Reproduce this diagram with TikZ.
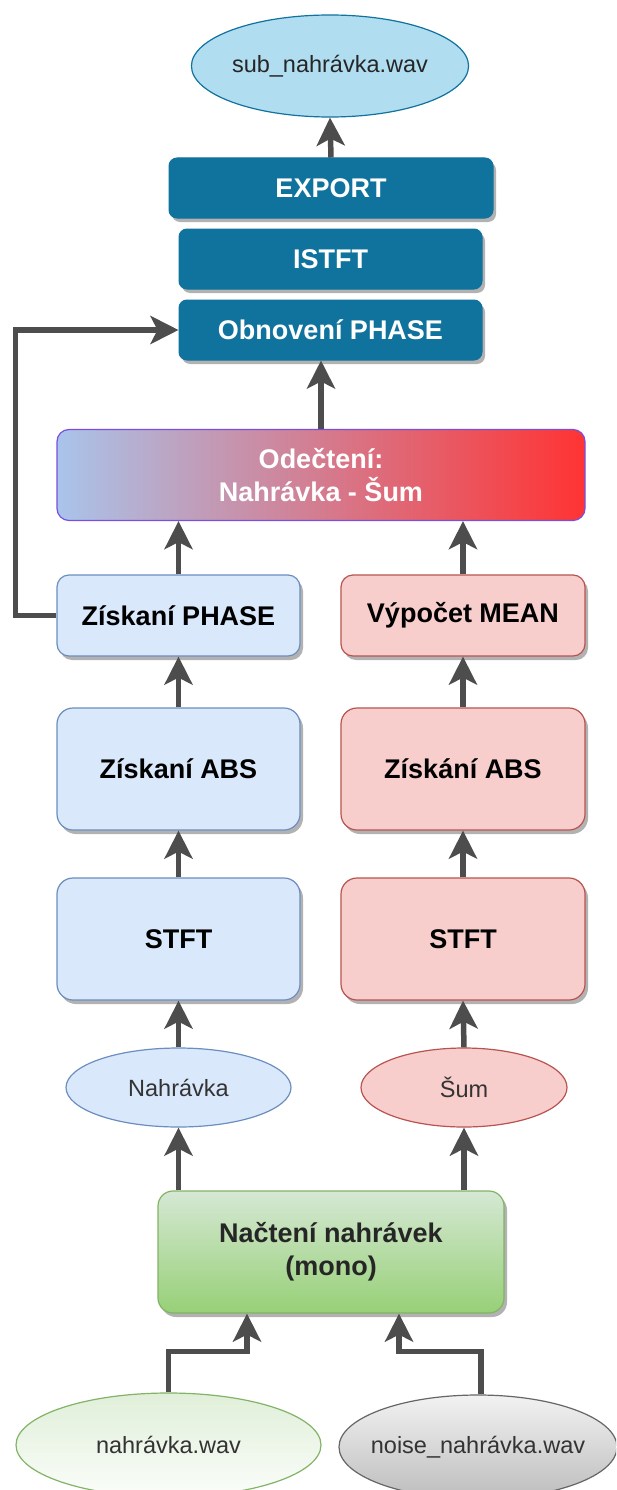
\documentclass[tikz,border=0pt]{standalone}
\usepackage{fontspec}
\setmainfont{Liberation Sans}
\usetikzlibrary{shapes.geometric,arrows.meta,shadows}
\definecolor{dblue}{HTML}{10739E}
\definecolor{lblue}{HTML}{B1DDF0}
\definecolor{pblue}{HTML}{DAE8FC}
\definecolor{pbluel}{HTML}{6C8EBF}
\definecolor{pred}{HTML}{F8CECC}
\definecolor{predl}{HTML}{B85450}
\definecolor{gradl}{HTML}{A9C4EB}
\definecolor{gradr}{HTML}{FF3333}
\definecolor{gradst}{HTML}{7A4FE0}
\definecolor{gtop}{HTML}{D5E8D4}
\definecolor{gbot}{HTML}{97D077}
\definecolor{gline}{HTML}{82B366}
\definecolor{etop}{HTML}{E0EFD9}
\definecolor{ebot}{HTML}{FBFDFA}
\definecolor{ytop}{HTML}{F2F2F2}
\definecolor{ybot}{HTML}{BDBDBD}
\definecolor{yline}{HTML}{666666}
\definecolor{edgec}{HTML}{4D4D4D}
\definecolor{txtd}{HTML}{333333}
\begin{document}
\begin{tikzpicture}[x=1pt,y=-1pt,
  reg/.style={font=\fontsize{23.5}{28}\selectfont, text=txtd},
  bld/.style={font=\fontsize{27}{33}\selectfont\bfseries, align=center},
  shad/.style={drop shadow={shadow xshift=3pt,shadow yshift=-4pt,opacity=0.3,fill=black}},
  darkbox/.style={rectangle, rounded corners=8pt, fill=dblue, draw=dblue, line width=1pt, bld, text=white, inner sep=0pt, minimum height=60pt, shad},
  bluebox/.style={rectangle, rounded corners=16pt, fill=pblue, draw=pbluel, line width=1.2pt, bld, text=black, inner sep=0pt, shad},
  redbox/.style={rectangle, rounded corners=16pt, fill=pred, draw=predl, line width=1.2pt, bld, text=black, inner sep=0pt, shad},
  oval/.style={ellipse, inner sep=0pt, line width=1.2pt, reg},
  conn/.style={draw=edgec, line width=5.5pt, -{Stealth[length=28pt 0,width=28pt 0,inset=7pt 0]}},
  loopconn/.style={conn, line join=miter}
]
\useasboundingbox (0,0) rectangle (616,1490);
\clip (0,0) rectangle (616,1490);
\fill[white] (0,0) rectangle (616,1490);

% top part
\node[oval, fill=lblue, draw=dblue, minimum width=243pt, minimum height=102pt, text=black!85] (sub) at (330,66) {sub\_nahrávka.wav};
\node[darkbox, minimum width=324pt] (exp) at (331,188) {EXPORT};
\node[darkbox, minimum width=303pt] (istft) at (330.5,259) {ISTFT};
\node[darkbox, minimum width=303pt] (obn) at (330.5,330) {Obnovení PHASE};

% subtraction
\node[rectangle, rounded corners=12pt, left color=gradl, right color=gradr, draw=gradst, line width=1.2pt, bld, text=white, inner sep=0pt, minimum width=528pt, minimum height=91pt] (grad) at (321,475) {Odečtení:\\Nahrávka - Šum};

% left column
\node[bluebox, minimum width=243pt, minimum height=81pt, rounded corners=12pt] (zp) at (178.5,615.5) {Získaní PHASE};
\node[bluebox, minimum width=243pt, minimum height=122pt] (absl) at (178.5,769) {Získaní ABS};
\node[bluebox, minimum width=243pt, minimum height=122pt] (stftl) at (178.5,939) {STFT};
\node[oval, fill=pblue, draw=pbluel, minimum width=225pt, minimum height=79pt] (nah) at (178.5,1087.5) {Nahrávka};

% right column
\node[redbox, minimum width=244pt, minimum height=81pt, rounded corners=12pt] (mean) at (463,615.5) {Výpočet MEAN};
\node[redbox, minimum width=244pt, minimum height=122pt] (absr) at (463,769) {Získání ABS};
\node[redbox, minimum width=244pt, minimum height=122pt] (stftr) at (463,939) {STFT};
\node[oval, fill=pred, draw=predl, minimum width=206pt, minimum height=79pt] (sum) at (464,1087.5) {Šum};

% loading
\node[rectangle, rounded corners=15pt, top color=gtop, bottom color=gbot, draw=gline, line width=1.2pt, bld, text=black!85, inner sep=0pt, minimum width=346pt, minimum height=122pt, shad] (load) at (331,1252) {Načtení nahrávek\\(mono)};

% inputs
\node[oval, top color=etop, bottom color=ebot, draw=gline, minimum width=305pt, minimum height=104pt] (wav) at (168.5,1445) {nahrávka.wav};
\node[oval, inner xsep=-14pt, top color=ytop, bottom color=ybot, draw=yline, minimum width=278pt, minimum height=104pt] (noise) at (478,1447) {noise\_nahrávka.wav};

% connectors
\draw[conn] (exp.north) -- (sub.south);
\draw[conn] (grad.north) -- (grad.north |- obn.south);
\draw[loopconn] (zp.west) -- ++(-41,0) |- (obn.west);
\draw[conn] (zp.north) -- (zp.north |- grad.south);
\draw[conn] (mean.north) -- (mean.north |- grad.south);
\draw[conn] (absl.north) -- (zp.south);
\draw[conn] (absr.north) -- (mean.south);
\draw[conn] (stftl.north) -- (absl.south);
\draw[conn] (stftr.north) -- (absr.south);
\draw[conn] (nah.north) -- (stftl.south);
\draw[conn] (sum.north) -- (stftr.south);
\draw[conn] (nah.south |- load.north) -- (nah.south);
\draw[conn] (sum.south |- load.north) -- (sum.south);
\draw[loopconn] (wav.north) -- ++(0,-41) -| ([xshift=-84pt]load.south);
\draw[loopconn] ([xshift=3pt]noise.north) -- ++(0,-43) -| ([xshift=68pt]load.south);
\end{tikzpicture}
\end{document}
